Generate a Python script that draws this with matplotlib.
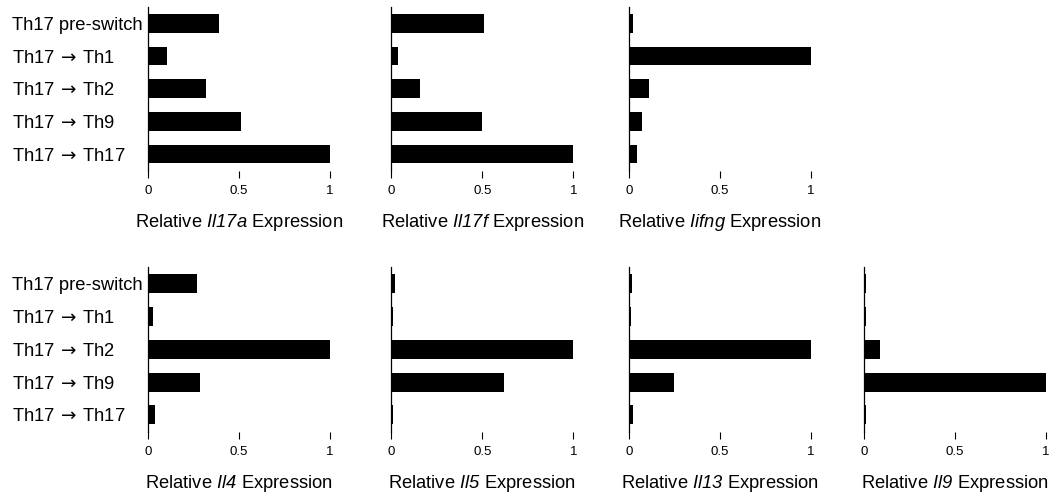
import numpy as np
import matplotlib
matplotlib.use("Agg")
import matplotlib.pyplot as plt

plt.rcParams['font.family'] = ['Liberation Sans', 'DejaVu Sans']
plt.rcParams['mathtext.fontset'] = 'custom'
plt.rcParams['mathtext.rm'] = 'Liberation Sans:italic'
plt.rcParams['mathtext.it'] = 'Liberation Sans:italic'

groups = ["Th17 pre-switch", "Th17$\\,\\rightarrow\\,$Th1", "Th17$\\,\\rightarrow\\,$Th2",
          "Th17$\\,\\rightarrow\\,$Th9", "Th17$\\,\\rightarrow\\,$Th17"]

il17a = [0.39, 0.105, 0.32, 0.514, 1.0]
il17f = [0.507, 0.037, 0.158, 0.498, 1.0]
iifng = [0.025, 1.0, 0.112, 0.073, 0.044]
il4 = [0.27, 0.031, 1.0, 0.288, 0.04]
il5 = [0.02, 0.011, 1.0, 0.62, 0.011]
il13 = [0.02, 0.015, 1.0, 0.249, 0.025]
il9 = [0.011, 0.011, 0.09, 1.0, 0.011]

top_genes = ["Il17a", "Il17f", "Iifng"]
top_vals = [il17a, il17f, iifng]
bot_genes = ["Il4", "Il5", "Il13", "Il9"]
bot_vals = [il4, il5, il13, il9]

W, H = 1055, 498
fig = plt.figure(figsize=(W / 100, H / 100), dpi=100)

lefts = [147.7, 391.3, 628.7, 864.0]
aw = 182.0


def panel(left_px, top_px, bot_px, vals, gene, show_labels):
    ax = fig.add_axes([left_px / W, 1 - bot_px / H, aw / W, (bot_px - top_px) / H])
    y = np.arange(len(groups))
    ax.barh(y, vals, height=0.58, color='black')
    ax.set_xlim(0, 1)
    ax.set_ylim(4.52, -0.5)
    ax.set_xticks([0, 0.5, 1])
    ax.set_xticklabels(['0', '0.5', '1'])
    ax.tick_params(axis='x', direction='out', length=5, width=0.8, labelsize=9.5, pad=5)
    for t in ax.xaxis.get_major_ticks():
        t.tick1line.set_clip_on(False)
    ax.set_yticks(y)
    if show_labels:
        ax.set_yticklabels(groups, fontsize=13.2, ha='left', math_fontfamily='dejavusans')
        # labels are left aligned at x ~ 12 px
        ax.tick_params(axis='y', length=0, pad=(left_px - 12) * 0.72)
    else:
        ax.set_yticklabels([])
        ax.tick_params(axis='y', length=0)
    for s in ['top', 'right', 'bottom']:
        ax.spines[s].set_visible(False)
    ax.spines['left'].set_linewidth(0.9)
    ax.set_xlabel("Relative $" + gene + "$ Expression", fontsize=13.2)
    ax.xaxis.set_label_coords(0.5, -51 / (bot_px - top_px))
    ax.xaxis.label.set_va('center')
    return ax


for i in range(3):
    panel(lefts[i], 7, 171, top_vals[i], top_genes[i], i == 0)
for i in range(4):
    panel(lefts[i], 267, 432, bot_vals[i], bot_genes[i], i == 0)

fig.savefig("out.png", dpi=100)
